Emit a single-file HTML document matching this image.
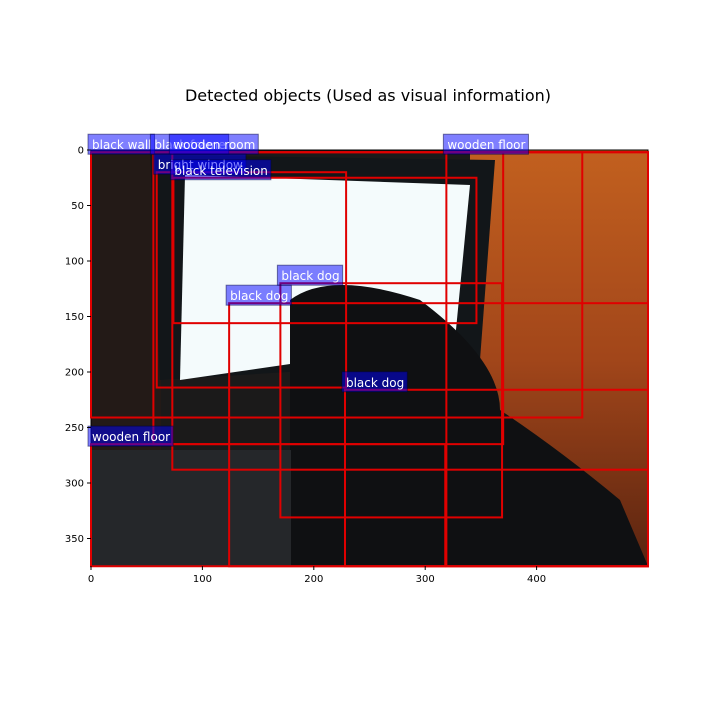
<!DOCTYPE html>
<html><head><meta charset="utf-8"><style>
body{margin:0;background:#fff;}
svg text{font-family:"DejaVu Sans","Liberation Sans",sans-serif;}
</style></head><body>
<svg id="c" width="720" height="720" xmlns="http://www.w3.org/2000/svg">
<text x="368" y="101" font-size="16" text-anchor="middle">Detected objects (Used as visual information)</text>
<defs>
<linearGradient id="wood" x1="0" y1="0" x2="0" y2="1"><stop offset="0" stop-color="#c2601f"/><stop offset="0.5" stop-color="#a2461a"/><stop offset="1" stop-color="#5a2410"/></linearGradient>
<clipPath id="clip"><rect x="91" y="150" width="557" height="416"/></clipPath>
</defs>
<g clip-path="url(#clip)">
<rect x="91" y="150" width="557" height="416" fill="#1b1a1a"/>
<rect x="91" y="150" width="70" height="300" fill="#231a17"/>
<rect x="470" y="150" width="178" height="416" fill="url(#wood)"/>
<polygon points="150,155 495,160 480,360 160,380" fill="#121619"/>
<polygon points="185,175 470,185 455,340 180,380" fill="#f4fbfc"/>
<path d="M290,300 Q330,270 420,300 Q500,360 500,410 Q560,450 620,500 L648,566 L290,566 Z" fill="#0f1012"/>
<rect x="91" y="450" width="200" height="116" fill="#25272a"/>
</g>
<rect x="91" y="150" width="557" height="416" fill="none" stroke="#000" stroke-width="1"/>
<g id="boxes"></g>
<g id="axes"></g>
</svg>
<script>
const labels=["black wall","black frame","wooden room","wooden floor","bright window","black television","black dog","black dog","black dog","wooden floor"];
const x0s=[0,56,73,319,59,74,170,124,228,0];
const y0s=[2,2,2,2,20,25,120,138,216,265];
const x1s=[441,370,500,500,229,346,369,500,500,318];
const y1s=[241,265,288,375,214,156,331,375,375,375];
const xTicks=[0,100,200,300,400];
const yTicks=[0,50,100,150,200,250,300,350];
const sx=d=>91+d*1.114, sy=d=>150+d*1.11;
const NS="http://www.w3.org/2000/svg";
const bx=document.getElementById('boxes'), ax=document.getElementById('axes');
function mk(t,a,p){const e=document.createElementNS(NS,t);for(const k in a)e.setAttribute(k,a[k]);p.appendChild(e);return e;}
labels.forEach((l,i)=>{
 const r=mk('rect',{x:sx(x0s[i]),y:sy(y0s[i]),width:sx(x1s[i])-sx(x0s[i]),height:sy(y1s[i])-sy(y0s[i]),fill:'none',stroke:'#e00000','stroke-width':2},bx);
 
 
});
labels.forEach((l,i)=>{
 const g=mk('g',{},bx);
 
 
 const x=sx(x0s[i]), y=sy(y0s[i]);
 const t=mk('text',{x:x+1,y:y-3,'font-size':12,fill:'#fff'},g);t.textContent=l;
 const w=t.getComputedTextLength()+7;
 const r=mk('rect',{x:x-3,y:y-18,width:w,height:20,fill:'rgba(0,0,255,0.5)',stroke:'rgba(0,0,60,0.5)'},g);
 g.insertBefore(r,t);
});
xTicks.forEach(v=>{
 const g=mk('g',{},ax);
 
 
 mk('line',{x1:sx(v),x2:sx(v),y1:566,y2:570,stroke:'#000'},g);
 const t=mk('text',{x:sx(v),y:582,'font-size':10,'text-anchor':'middle'},g);t.textContent=v;
});
yTicks.forEach(v=>{
 const g=mk('g',{},ax);
 
 
 mk('line',{x1:87,x2:91,y1:sy(v),y2:sy(v),stroke:'#000'},g);
 const t=mk('text',{x:84,y:sy(v)+3.5,'font-size':10,'text-anchor':'end'},g);t.textContent=v;
});
</script>
</body></html>
